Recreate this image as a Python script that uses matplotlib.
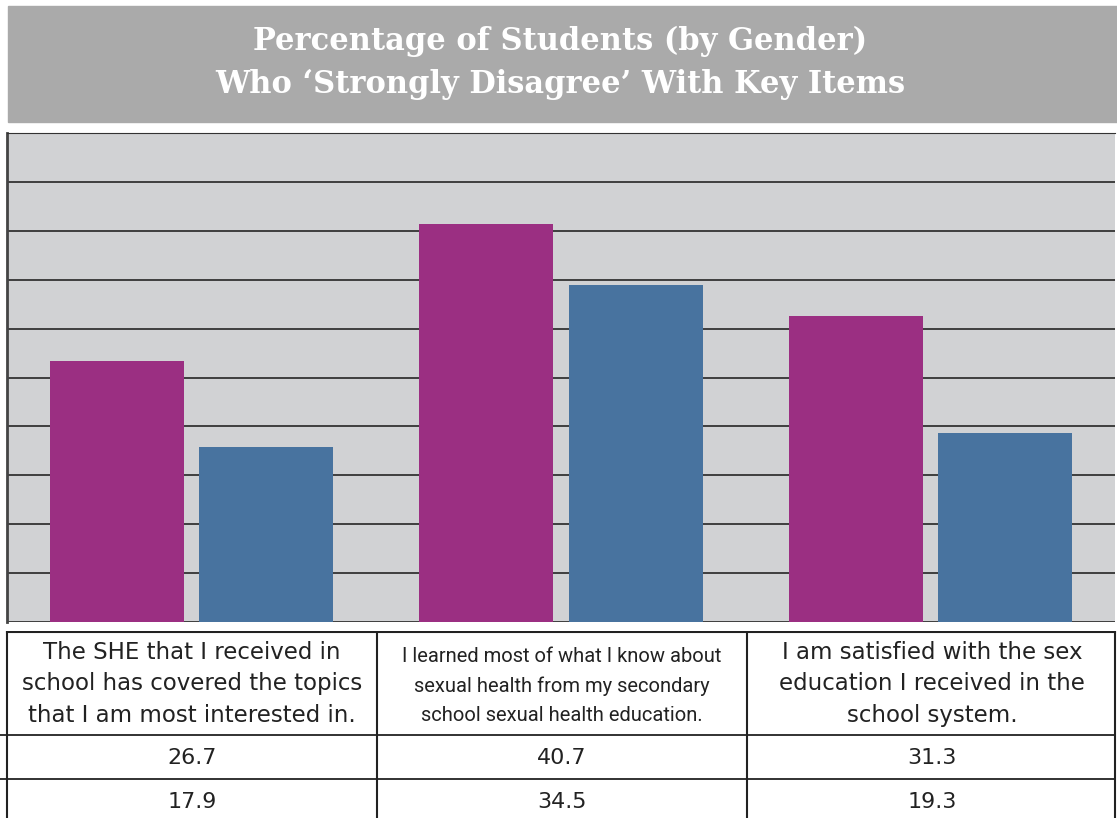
import matplotlib.pyplot as plt
from matplotlib.patches import Rectangle

items = [
    "The SHE that I received in\nschool has covered the topics\nthat I am most interested in.",
    "I learned most of what I know about\nsexual health from my secondary\nschool sexual health education.",
    "I am satisfied with the sex\neducation I received in the\nschool system.",
]
female = [26.7, 40.7, 31.3]
male = [17.9, 34.5, 19.3]

W, H = 1117, 818
fig = plt.figure(figsize=(W / 100, H / 100), dpi=100)
fig.patch.set_facecolor('white')

def fig_box(x0, y0, x1, y1):
    # pixel box (top-left origin) -> figure fraction
    return [x0 / W, 1 - y1 / H, (x1 - x0) / W, (y1 - y0) / H]

# title banner
fig.patches.append(Rectangle((8 / W, 1 - 122 / H), (W - 8) / W, 116 / H,
                             transform=fig.transFigure, color='#aaaaaa', zorder=0))
fig.text(560 / W, 1 - 63 / H,
         "Percentage of Students (by Gender)\nWho \u2018Strongly Disagree\u2019 With Key Items",
         ha='center', va='center', color='white', fontsize=22, fontweight='bold',
         family='DejaVu Serif', linespacing=1.5)

# bar chart
ax = fig.add_axes(fig_box(7, 133, 1115, 622))
ax.set_facecolor('#d1d2d4')
ax.set_xlim(0, 3)
ax.set_ylim(0, 50)
ax.set_yticks(range(0, 51, 5))
ax.yaxis.grid(True, color='#333333', linewidth=1.3)
ax.set_axisbelow(True)
ax.tick_params(left=False, bottom=False, labelleft=False, labelbottom=False)
for s in ['right', 'bottom']:
    ax.spines[s].set_visible(False)
ax.spines['top'].set_color('#333333')
ax.spines['left'].set_color('#444444')
ax.spines['left'].set_linewidth(2)

centers = [i + 0.5 for i in range(len(items))]
bw = 0.363
off = 0.202
ax.bar([c - off for c in centers], female, width=bw, color='#9b2f82', zorder=3)
ax.bar([c + off for c in centers], male, width=bw, color='#48739f', zorder=3)

# table underneath
tb = fig.add_axes(fig_box(0, 631, W, H))
tb.set_xlim(0, W)
tb.set_ylim(H, 631)
tb.axis('off')
lc = '#222222'
tb.plot([7, 1115], [632, 632], color=lc, lw=1.5)
for y in [735, 779]:
    tb.plot([0, 1115], [y, y], color=lc, lw=1.3)
for x in [7, 377, 747, 1115]:
    tb.plot([x, x], [631, H], color=lc, lw=1.5)

col_w = 370
for i, label in enumerate(items):
    cx = 7 + col_w * (i + 0.5)
    if i == 1:
        tb.text(cx, 686, label, ha='center', va='center', fontsize=14.5,
                family='Roboto', color='#222222', linespacing=1.65)
    else:
        tb.text(cx, 684, label, ha='center', va='center', fontsize=16.5,
                family='DejaVu Sans', color='#222222', linespacing=1.45)
    tb.text(cx, 758, f"{female[i]:.1f}", ha='center', va='center', fontsize=16,
            family='DejaVu Sans', color='#222222')
    tb.text(cx, 802, f"{male[i]:.1f}", ha='center', va='center', fontsize=16,
            family='DejaVu Sans', color='#222222')

fig.savefig('out.png', dpi=100)
